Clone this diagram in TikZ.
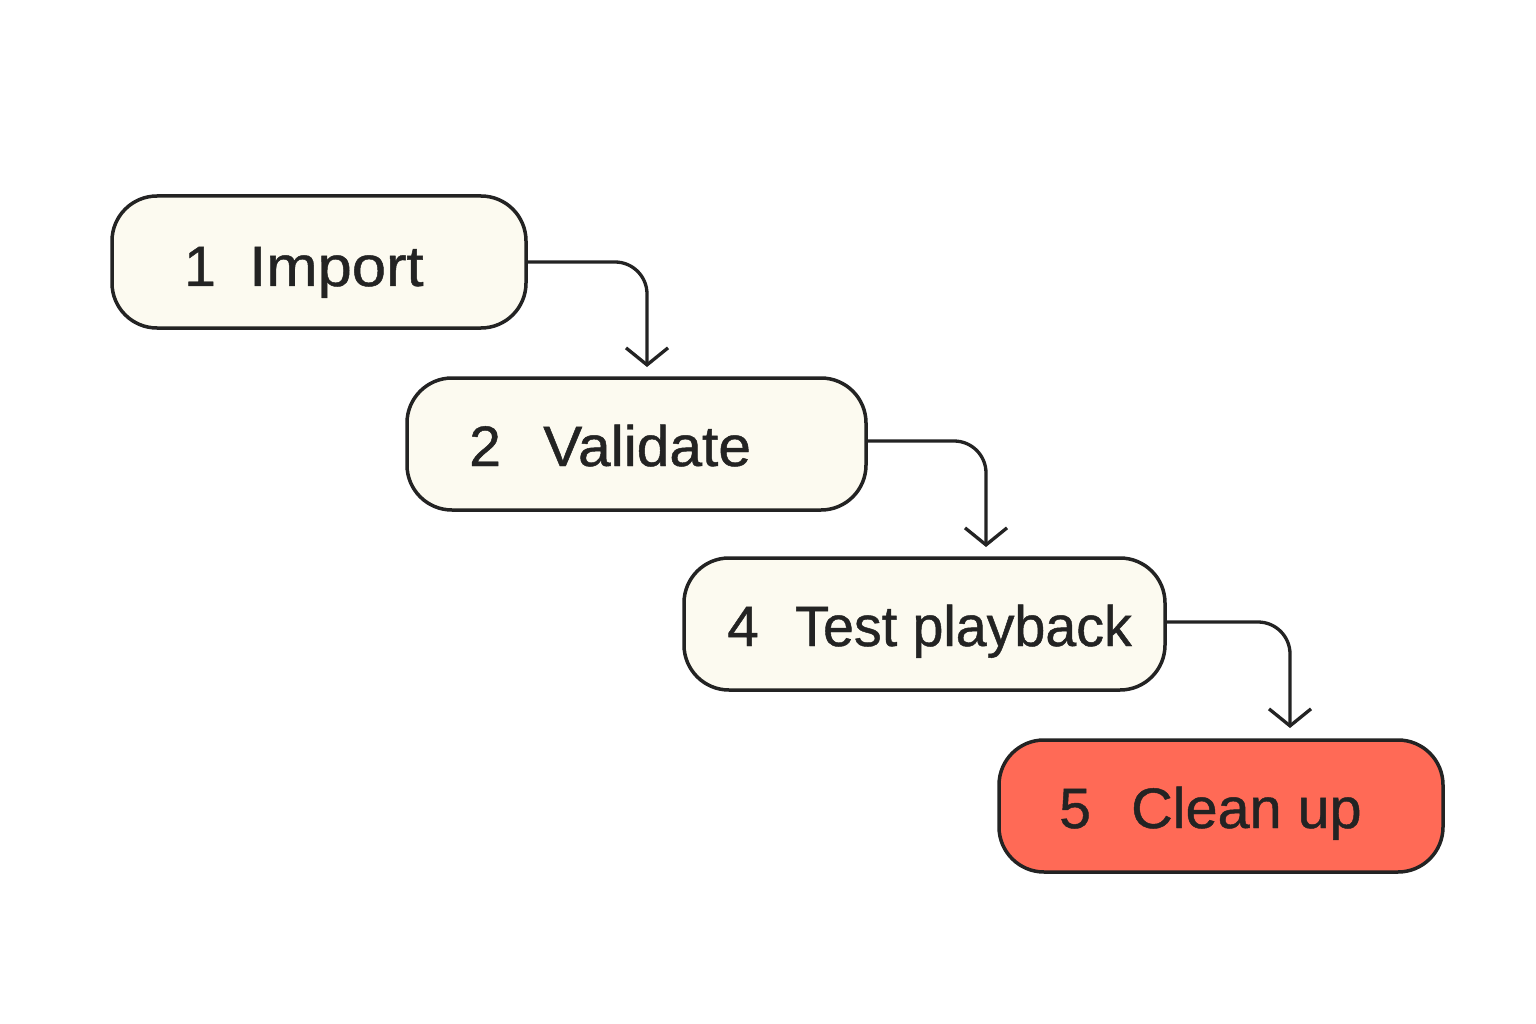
\documentclass[tikz,border=0pt]{standalone}
\usepackage{fontspec}
\setmainfont{Liberation Sans}
\newfontfamily\medfont{Liberation Sans}[FakeBold=0.8]
\usetikzlibrary{arrows.meta}
\definecolor{cream}{HTML}{FCFAF0}
\definecolor{coral}{HTML}{FF6A56}
\definecolor{ink}{HTML}{232323}
\tikzset{
  stepbox/.style={draw=ink, line width=3.5pt, rounded corners=45pt, fill=cream, inner sep=0pt},
  lbl/.style={anchor=base west, inner sep=0pt, text=ink, font=\medfont\fontsize{57}{68}\selectfont},
  conn/.style={draw=ink, line width=3.3pt, rounded corners=32pt, -{Straight Barb[length=17pt,width=42pt,line width=3.3pt]}}
}
\begin{document}
\begin{tikzpicture}[x=1pt,y=-1pt]
\useasboundingbox (0,0) rectangle (1536,1024);
\fill[white] (0,0) rectangle (1536,1024);
% boxes
\node[stepbox, minimum width=414pt, minimum height=132pt] (b1) at (319,262) {};
\node[stepbox, minimum width=459pt, minimum height=132pt] (b2) at (636.5,444) {};
\node[stepbox, minimum width=481pt, minimum height=132pt] (b4) at (924.5,624) {};
\node[stepbox, fill=coral, minimum width=444pt, minimum height=132pt] (b5) at (1221,806) {};
% labels
\node[lbl] (n1) at (184,286) {1};
\node[lbl] (t1) at (249,286) {\scalebox{1.08}[1]{Import}};
\node[lbl] (n2) at (469,466) {2};
\node[lbl] (t2) at (543,466) {\scalebox{1.03}[1]{Validate}};
\node[lbl] (n4) at (727,646) {4};
\node[lbl] (t4) at (795,646) {\scalebox{0.975}[1]{Test playback}};
\node[lbl] (n5) at (1059,828) {5};
\node[lbl] (t5) at (1131,828) {\scalebox{1.01}[1]{Clean up}};
% arrow ends
\coordinate (a1) at (647,367);
\coordinate (a2) at (986,547);
\coordinate (a3) at (1290,728);
\draw[conn] (b1.east |- 0,262) -| (a1);
\draw[conn] (b2.east |- 0,441) -| (a2);
\draw[conn] (b4.east |- 0,622) -| (a3);
\end{tikzpicture}
\end{document}
